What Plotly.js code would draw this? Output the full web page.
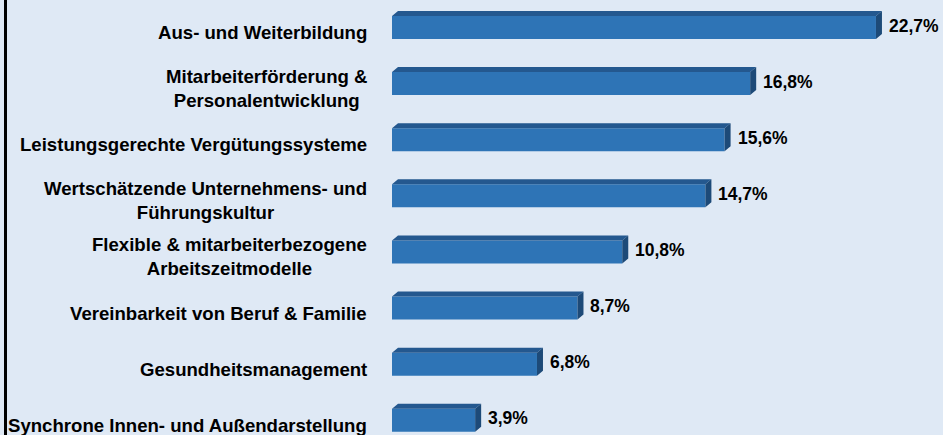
<!DOCTYPE html>
<html>
<head>
<meta charset="utf-8">
<script src="https://cdn.plot.ly/plotly-3.0.1.min.js"></script>
<style>
html,body{margin:0;padding:0;background:#dfe9f5;}
#chart{width:943px;height:435px;}
</style>
</head>
<body>
<div id="chart"></div>
<script>
// ---- data ----
const categories = [
  "Aus- und Weiterbildung",
  "Mitarbeiterförderung &<br>Personalentwicklung",
  "Leistungsgerechte Vergütungssysteme",
  "Wertschätzende Unternehmens- und<br>Führungskultur",
  "Flexible & mitarbeiterbezogene<br>Arbeitszeitmodelle",
  "Vereinbarkeit von Beruf & Familie",
  "Gesundheitsmanagement",
  "Synchrone Innen- und Außendarstellung"
];
const values = [22.7, 16.8, 15.6, 14.7, 10.8, 8.7, 6.8, 3.9];
const valueLabels = ["22,7%", "16,8%", "15,6%", "14,7%", "10,8%", "8,7%", "6,8%", "3,9%"];

// ---- geometry / style ----
const W = 943, H = 435;
const plotLeft = 392;                 // px where 0% sits
const pxPerPct = 21.32;
const pxPerCat = 56.11;
const firstCenter = 27.5;             // px of first bar centre
const barW = 0.41;                    // in category units
const dxPx = 6, dyPx = 5;             // 3D depth in px
const dx = dxPx / pxPerPct, dy = dyPx / pxPerCat;

const xMax = (W - plotLeft) / pxPerPct;
const yTop = -firstCenter / pxPerCat;
const yBottom = yTop + H / pxPerCat;

const idx = categories.map((c, i) => i);
const font = "Liberation Sans, Arial, Helvetica, sans-serif";

// front faces
const front = {
  type: "bar", orientation: "h",
  x: values, y: idx, width: barW,
  marker: {color: "#2e74b6", line: {width: 0}},
  hoverinfo: "skip", showlegend: false
};

// top & side faces derived from values
const topX = [], topY = [], sideX = [], sideY = [];
values.forEach((v, i) => {
  const yt = i - barW / 2, yb = i + barW / 2;
  topX.push(0, v, v + dx, dx, 0, null);
  topY.push(yt, yt, yt - dy, yt - dy, yt, null);
  sideX.push(v, v + dx, v + dx, v, v, null);
  sideY.push(yt, yt - dy, yb - dy, yb, yt, null);
});
const topFace = {
  type: "scatter", mode: "lines", x: topX, y: topY, fill: "toself",
  fillcolor: "#24588f", line: {width: 0, color: "#24588f"},
  hoverinfo: "skip", showlegend: false
};
const sideFace = {
  type: "scatter", mode: "lines", x: sideX, y: sideY, fill: "toself",
  fillcolor: "#1d4a78", line: {width: 0, color: "#1d4a78"},
  hoverinfo: "skip", showlegend: false
};

const annotations = [];
categories.forEach((c, i) => {
  annotations.push({
    text: "<b>" + c + "</b>", xref: "paper", yref: "y",
    x: 369 / W, y: i, xanchor: "right", yanchor: "middle", align: "center",
    yshift: -5, showarrow: false,
    font: {family: font, size: 18.6, color: "#000"}
  });
});
values.forEach((v, i) => {
  annotations.push({
    text: "<b>" + valueLabels[i] + "</b>", xref: "x", yref: "y",
    x: v, y: i, xanchor: "left", yanchor: "middle",
    xshift: 11, yshift: 2, showarrow: false,
    font: {family: font, size: 17.5, color: "#000"}
  });
});

const layout = {
  width: W, height: H,
  margin: {l: 0, r: 0, t: 0, b: 0, pad: 0},
  paper_bgcolor: "#dfe9f5", plot_bgcolor: "#dfe9f5",
  xaxis: {domain: [plotLeft / W, 1], range: [0, xMax], visible: false, fixedrange: true},
  yaxis: {range: [yBottom, yTop], visible: false, fixedrange: true},
  barmode: "overlay",
  hovermode: false,
  annotations: annotations,
  shapes: [{
    type: "line", xref: "paper", yref: "paper",
    x0: 5.5 / W, x1: 5.5 / W, y0: 0, y1: 1,
    line: {color: "#000", width: 3}
  }]
};

Plotly.newPlot("chart", [front, topFace, sideFace], layout, {displayModeBar: false, staticPlot: true});
</script>
</body>
</html>
